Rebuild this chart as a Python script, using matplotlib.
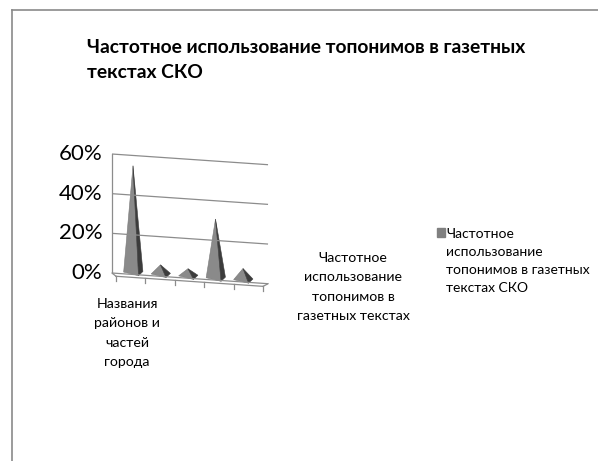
import matplotlib.pyplot as plt
from matplotlib.patches import Polygon

plt.rcParams['font.family'] = ['Lato', 'DejaVu Sans']

# data
categories = ["1", "2", "3", "4", "5"]
values = [54, 5, 4, 30, 6]
ticks = [0, 20, 40, 60]
tick_labels = ["0%", "20%", "40%", "60%"]

title = "Частотное использование топонимов в газетных\nтекстах СКО"
x_title = "Названия\nрайонов и\nчастей\nгорода"
series_title = "Частотное\nиспользование\nтопонимов в\nгазетных текстах"
legend_label = "Частотное\nиспользование\nтопонимов в газетных\nтекстах СКО"

W, H = 598, 461
fig = plt.figure(figsize=(W / 100, H / 100), dpi=100)


def fx(px):
    return px / W


def fy(py):
    return 1 - py / H


# chart border (only top and left visible)
fig.add_artist(plt.Line2D([fx(12), fx(12)], [fy(10), 0], color="#8a8a8a", lw=1.2))
fig.add_artist(plt.Line2D([fx(12), 1], [fy(10), fy(10)], color="#8a8a8a", lw=1.2))

# plot area: x in category units, y in percent (sheared floor)
ax = fig.add_axes([fx(95), fy(300), fx(280) - fx(95), fy(145) - fy(300)])
ax.set_xlim(-1.382, 5.345)
ax.set_ylim(-13.6, 64.55)
ax.axis("off")

slope = 0.95
i_left = -0.76
i_right = 4.91


def floor(i):
    return -slope * (i - i_left)


grid_col = "#8c8c8c"
for t in ticks:
    ax.plot([i_left, i_right], [t + floor(i_left), t + floor(i_right)],
            color=grid_col, lw=0.9, solid_capstyle="butt")
ax.plot([i_left, i_left], [0, 60], color=grid_col, lw=0.9)

# floor front edge with category ticks
f0, f1 = -0.62, 4.73
ax.plot([f0, f1], [floor(f0) - 1.5, floor(f1) - 1.5], color=grid_col, lw=0.9)
ax.plot([i_left, f0], [0, floor(f0) - 1.5], color=grid_col, lw=0.9)
ax.plot([i_right, f1], [floor(i_right), floor(f1) - 1.5], color=grid_col, lw=0.9)
n = len(categories)
for j in range(n + 1):
    xt = f0 + j * (f1 - f0) / n
    ax.plot([xt, xt], [floor(xt) - 1.5, floor(xt) - 4.0], color=grid_col, lw=0.9)

for t, lab in zip(ticks, tick_labels):
    ax.text(-1.12, t, lab, ha="right", va="center", fontsize=16, color="black")

# pyramids
for c, v in enumerate(values):
    b = floor(c) + 0.8
    apex = (c, b + v)
    left = (c - 0.34, b + 0.4)
    front = (c + 0.2, b - 1.4)
    right = (c + 0.36, b + 0.7)
    ax.add_patch(Polygon([apex, left, front], closed=True, facecolor="#8a8a8a",
                         edgecolor="#7a7a7a", lw=0.4))
    ax.add_patch(Polygon([apex, front, right], closed=True, facecolor="#3c3c3c",
                         edgecolor="#3c3c3c", lw=0.4))

# texts
fig.text(fx(87), fy(60), title, ha="left", va="center", fontsize=13.9,
         fontweight="bold", linespacing=1.6)
fig.text(fx(127), fy(333), x_title, ha="center", va="center", fontsize=10.2,
         linespacing=1.72)
fig.text(fx(353), fy(287), series_title, ha="center", va="center", fontsize=10.2,
         linespacing=1.72)

# legend
fig.add_artist(plt.Rectangle((fx(437), fy(237)), fx(8), fy(228) - fy(237),
                             color="#808080"))
fig.text(fx(446), fy(261), legend_label, ha="left", va="center", fontsize=10,
         linespacing=1.62)

fig.savefig("out.png", dpi=100)
